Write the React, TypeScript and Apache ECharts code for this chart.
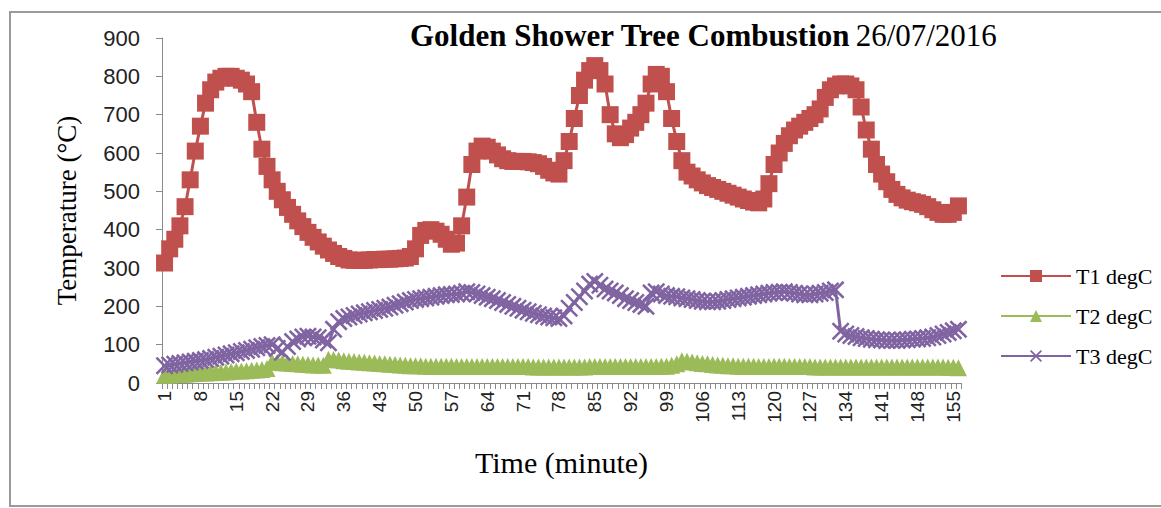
import React, { useEffect, useRef } from "react";
import * as echarts from "echarts";

const minutes: string[] = Array.from({ length: 156 }, (_, i) => String(i + 1));

const t1: number[] = [
  313, 350, 375, 410, 460, 530, 605, 670, 730, 765,
  785, 795, 800, 800, 795, 790, 780, 760, 680, 610,
  565, 530, 500, 478, 458, 440, 423, 408, 393, 380,
  368, 357, 347, 338, 330, 325, 321, 320, 320, 320,
  321, 322, 322, 323, 323, 324, 325, 326, 330, 350,
  385, 398, 400, 396, 388, 375, 362, 365, 410, 485,
  570, 605, 618, 615, 605, 595, 585, 580, 578, 578,
  578, 577, 575, 572, 565, 555, 548, 545, 580, 630,
  690, 750, 790, 815, 828, 815, 780, 700, 650, 640,
  648, 665, 680, 700, 730, 780, 805, 800, 760, 690,
  630, 580, 550, 540, 530, 522, 515, 510, 505, 500,
  495, 490, 485, 480, 476, 472, 470, 480, 520, 570,
  600, 625, 645, 660, 670, 680, 690, 700, 715, 745,
  765, 775, 780, 780, 775, 765, 720, 660, 610, 570,
  545, 525, 505, 492, 483, 477, 473, 470, 466, 460,
  452, 445, 440, 440, 445, 462,
];

const t2: number[] = [
  20, 21, 22, 22, 23, 24, 25, 26, 26, 27,
  28, 28, 29, 30, 31, 31, 32, 33, 34, 35,
  38, 55, 54, 53, 52, 51, 50, 49, 48, 47,
  47, 46, 62, 61, 60, 58, 57, 56, 55, 54,
  53, 52, 51, 50, 49, 48, 47, 46, 45, 45,
  45, 44, 44, 44, 44, 44, 44, 43, 43, 43,
  43, 43, 43, 43, 43, 43, 43, 43, 43, 43,
  43, 43, 42, 42, 42, 42, 42, 42, 42, 42,
  42, 42, 42, 43, 43, 43, 43, 43, 43, 43,
  43, 43, 43, 43, 43, 43, 43, 44, 44, 46,
  50, 58, 57, 55, 53, 51, 50, 48, 47, 46,
  45, 45, 44, 44, 44, 44, 43, 43, 43, 44,
  44, 44, 43, 43, 43, 43, 43, 42, 42, 42,
  42, 42, 42, 42, 42, 42, 42, 42, 42, 42,
  42, 42, 42, 42, 42, 42, 42, 42, 42, 42,
  42, 42, 42, 41, 41, 40,
];

const t3: number[] = [
  45, 47, 49, 51, 53, 55, 57, 59, 61, 64,
  67, 70, 73, 76, 79, 82, 85, 88, 92, 95,
  98, 100, 90, 80, 95, 108, 115, 120, 122, 120,
  118, 112, 105, 140, 160, 168, 172, 176, 180, 183,
  186, 189, 192, 195, 198, 203, 207, 211, 215, 218,
  220, 222, 224, 226, 228, 230, 231, 232, 234, 238,
  236, 232, 228, 224, 220, 215, 210, 205, 200, 195,
  190, 186, 182, 178, 175, 172, 170, 168, 175, 195,
  210, 225, 240, 258, 265, 255, 245, 240, 235, 228,
  220, 215, 210, 205, 200, 235, 238, 232, 228, 226,
  225, 222, 220, 218, 215, 213, 212, 212, 213, 215,
  218, 220, 222, 224, 226, 228, 230, 232, 234, 236,
  237, 238, 236, 234, 232, 230, 230, 232, 234, 236,
  240, 243, 135, 128, 124, 121, 118, 116, 114, 113,
  112, 111, 111, 111, 112, 113, 114, 115, 116, 118,
  120, 124, 128, 132, 136, 140,
];

const yTicks = { min: 0, max: 900, interval: 100 };

const RED = "#C0504D";
const GREEN = "#9BBB59";
const PURPLE = "#8064A2";
const CROSS =
  "path://M1,0 L5,4 L9,0 L10,1 L6,5 L10,9 L9,10 L5,6 L1,10 L0,9 L4,5 L0,1 Z";

export default function App() {
  const ref = useRef<HTMLDivElement>(null);
  useEffect(() => {
    document.body.style.margin = "0";
    if (!ref.current) return;
    const chart = echarts.init(ref.current, null, { renderer: "svg" });
    const serif = "'Liberation Serif', 'Times New Roman', serif";
    const sans = "'Liberation Sans', Arial, sans-serif";
    chart.setOption({
      animation: false,
      backgroundColor: "#ffffff",
      title: {
        text: "{b|Golden Shower Tree Combustion} {r|26/07/2016}",
        left: 405,
        top: 15,
        textStyle: {
          rich: {
            b: { fontFamily: serif, fontWeight: "bold", fontSize: 31, color: "#000" },
            r: { fontFamily: serif, fontWeight: "normal", fontSize: 31, color: "#000" },
          },
        },
      },
      graphic: [
        {
          type: "rect",
          shape: { x: 10, y: 12, width: 1170, height: 494 },
          style: { fill: "none", stroke: "#9a9a9a", lineWidth: 2 },
          silent: true,
        },
      ],
      legend: {
        orient: "vertical",
        left: 995,
        top: 260,
        itemGap: 18,
        itemWidth: 70,
        itemHeight: 15,
        textStyle: { fontFamily: serif, fontSize: 22, color: "#000" },
        data: ["T1 degC", "T2 degC", "T3 degC"],
      },
      grid: { left: 162, right: 200, top: 38, bottom: 125 },
      xAxis: {
        type: "category",
        data: minutes,
        boundaryGap: true,
        name: "Time (minute)",
        nameLocation: "middle",
        nameGap: 64,
        nameTextStyle: { fontFamily: serif, fontSize: 30, color: "#000" },
        axisLine: { lineStyle: { color: "#8a8a8a", width: 1 } },
        axisTick: { show: true, interval: 0, length: 6, lineStyle: { color: "#8a8a8a" } },
        axisLabel: {
          interval: 6,
          rotate: 90,
          margin: 8,
          fontFamily: sans,
          fontSize: 19,
          color: "#222",
        },
        splitLine: { show: false },
      },
      yAxis: {
        type: "value",
        min: yTicks.min,
        max: yTicks.max,
        interval: yTicks.interval,
        name: "Temperature (°C)",
        nameLocation: "middle",
        nameGap: 82,
        nameTextStyle: { fontFamily: serif, fontSize: 27, color: "#000" },
        axisLine: { show: true, lineStyle: { color: "#8a8a8a", width: 1 } },
        axisTick: { show: true, length: 6, lineStyle: { color: "#8a8a8a" } },
        axisLabel: { margin: 22, fontFamily: sans, fontSize: 22, color: "#222" },
        splitLine: { show: false },
      },
      series: [
        {
          name: "T1 degC",
          type: "line",
          data: t1,
          symbol: "rect",
          symbolSize: 17,
          showAllSymbol: true,
          itemStyle: { color: RED },
          lineStyle: { color: RED, width: 3 },
        },
        {
          name: "T2 degC",
          type: "line",
          data: t2,
          symbol: "triangle",
          symbolSize: 17,
          showAllSymbol: true,
          itemStyle: { color: GREEN },
          lineStyle: { color: GREEN, width: 3 },
        },
        {
          name: "T3 degC",
          type: "line",
          data: t3,
          symbol: CROSS,
          symbolSize: 18,
          showAllSymbol: true,
          itemStyle: { color: PURPLE },
          lineStyle: { color: PURPLE, width: 3 },
        },
      ],
    });
    return () => chart.dispose();
  }, []);
  return <div ref={ref} style={{ width: 1161, height: 508 }} />;
}
